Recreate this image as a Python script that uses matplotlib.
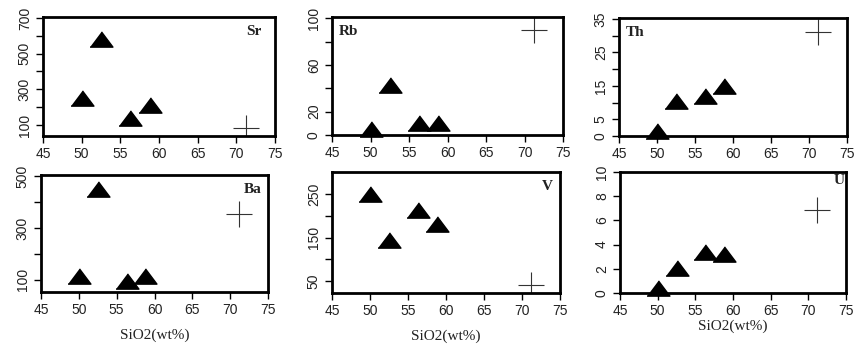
import numpy as np
import matplotlib
matplotlib.use("Agg")
from matplotlib import pyplot as plt

# SiO2 of the four samples and the reference (cross) point
sio2 = [50.0, 52.5, 56.3, 58.8]
sio2_ref = 71.2

sr = [250, 580, 140, 210]
rb = [5, 43, 10, 10]
th = [1.5, 10.5, 12, 15]
ba = [115, 450, 95, 115]
v = [250, 145, 213, 180]
u = [0.4, 2.1, 3.4, 3.2]

ref_sr, ref_rb, ref_th = 85, 90, 31
ref_ba, ref_v, ref_u = 355, 42, 6.9

W, H = 855, 344
tri = [(-1.5, -1), (1.5, -1), (0, 1)]

def box(l, t, r, b):
    return [l / W, 1 - b / H, (r - l) / W, (b - t) / H]

fig = plt.figure(figsize=(8.55, 3.44), dpi=100)

panels = [
    # name, y, ref, axes box, ylim, ticks, tick labels, label pos, ha
    ("Sr", sr, ref_sr, box(43, 17, 275, 136), (38, 705),
     [100, 200, 300, 400, 500, 600, 700], ["100", "", "300", "", "500", "", "700"], (0.94, 0.88), "right"),
    ("Rb", rb, ref_rb, box(332, 17, 563, 135), (0, 101),
     [0, 20, 40, 60, 80, 100], ["0", "20", "", "60", "", "100"], (0.03, 0.88), "left"),
    ("Th", th, ref_th, box(619, 18, 847, 136), (0, 35.3),
     [0, 5, 10, 15, 20, 25, 30, 35], ["0", "5", "", "15", "", "25", "", "35"], (0.03, 0.88), "left"),
    ("Ba", ba, ref_ba, box(41, 175, 268, 292), (53, 505),
     [100, 200, 300, 400, 500], ["100", "", "300", "", "500"], (0.97, 0.88), "right"),
    ("V", v, ref_v, box(332, 172, 560, 293), (23, 300),
     [50, 100, 150, 200, 250], ["50", "", "150", "", "250"], (0.97, 0.88), "right"),
    ("U", u, ref_u, box(620, 172, 846, 293), (0, 10),
     [0, 2, 4, 6, 8, 10], ["0", "2", "4", "6", "8", "10"], (0.995, 0.93), "right"),
]

for name, yv, yref, rect, ylim, yt, ytl, pos, ha in panels:
    ax = fig.add_axes(rect)
    ax.plot(sio2, yv, linestyle="none", marker=tri, markersize=16.5,
            color="black", clip_on=False)
    ax.plot([sio2_ref], [yref], linestyle="none", marker="+", markersize=19,
            markeredgewidth=0.8, color="#333333")
    ax.set_xlim(45, 75)
    ax.set_ylim(*ylim)
    ax.set_xticks([45, 50, 55, 60, 65, 70, 75])
    ax.set_yticks(yt)
    ax.set_yticklabels(ytl, rotation=90, va="center")
    for s in ax.spines.values():
        s.set_linewidth(2)
    ax.tick_params(direction="out", length=5, width=1, labelsize=10, pad=3)
    for lab in ax.get_xticklabels() + ax.get_yticklabels():
        lab.set_family("Liberation Sans")
        lab.set_color("#222222")
    ax.text(pos[0], pos[1], name, transform=ax.transAxes, ha=ha, va="center",
            fontsize=11, family="Liberation Serif", fontweight="bold", color="#222222")
    if name in ("Ba", "V", "U"):
        ax.set_xlabel("SiO2(wt%)", family="Liberation Serif", fontsize=11,
                      labelpad=8 if name != "U" else 1, color="#222222")

fig.savefig("out.png", dpi=100)
